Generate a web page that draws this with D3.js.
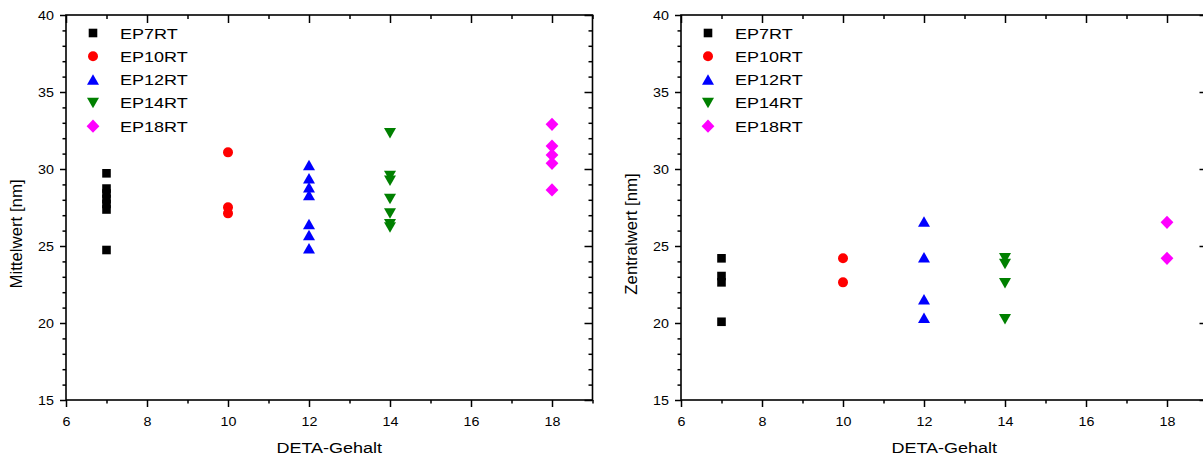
<!DOCTYPE html>
<html><head><meta charset="utf-8">
<script src="https://cdn.jsdelivr.net/npm/d3@7"></script>
<style>body{margin:0;background:#fff} svg{display:block} text{font-family:"Liberation Sans",Arial,sans-serif;fill:#000}</style>
</head><body><svg id="c" width="1203" height="462"></svg>
<script>
const seriesNames = ["EP7RT","EP10RT","EP12RT","EP14RT","EP18RT"];
const seriesX = [7,10,12,14,18];
const seriesColors = ["#000000","#ff0000","#0000ff","#008000","#ff00ff"];
const seriesShapes = ["square","circle","triangleUp","triangleDown","diamond"];
const mittelwert = [
  [29.72, 28.73, 28.41, 28.05, 27.73, 27.37, 24.74],
  [31.08, 27.51, 27.12],
  [30.26, 29.39, 28.81, 28.31, 26.43, 25.71, 24.85],
  [32.32, 29.55, 29.24, 28.05, 27.12, 26.41, 26.21],
  [32.90, 31.49, 30.91, 30.37, 28.64]
];
const zentralwert = [
  [24.20, 23.05, 22.64, 20.08],
  [24.20, 22.64],
  [26.58, 24.27, 21.54, 20.34],
  [24.20, 23.83, 22.58, 20.24],
  [26.54, 24.20]
];
const xTicks = [6,8,10,12,14,16,18];
const xMinor = [7,9,11,13,15,17,19];
const yTicks = [15,20,25,30,35,40];
const yMinor = d3.range(15,41,1).filter(v=>v%5!==0);
const xTitle = "DETA-Gehalt";
const yTitles = ["Mittelwert [nm]","Zentralwert [nm]"];

const svg = d3.select("#c");
const SX = 1.2; // horizontal stretch of texts in the original

function shapePath(shape){
  switch(shape){
    case "square": {const h=4.3; return `M${-h},${-h}H${h}V${h}H${-h}Z`;}
    case "circle": return d3.symbol(d3.symbolCircle, Math.PI*25)();
    case "triangleUp": return "M0,-5.3L6,5.2L-6,5.2Z";
    case "triangleDown": return "M0,5.3L6,-5.2L-6,-5.2Z";
    case "diamond": return "M0,-6.6L6.4,0L0,6.6L-6.4,0Z";
  }
}

function panel(x0, x1, data, yTitle){
  const y0 = 400, y1 = 15;
  const x = d3.scaleLinear().domain([6,19]).range([x0,x1]);
  const y = d3.scaleLinear().domain([15,40]).range([y0,y1]);
  const g = svg.append("g");

  const bottom = g.append("g").attr("transform",`translate(0,${y0})`)
    .call(d3.axisBottom(x).tickValues(xTicks).tickSize(7).tickSizeOuter(0).tickFormat(d3.format("d")));
  g.append("g").attr("transform",`translate(0,${y0})`)
    .call(d3.axisBottom(x).tickValues(xMinor).tickSize(3.5).tickSizeOuter(0).tickFormat(""));
  g.append("g").attr("transform",`translate(0,${y1})`)
    .call(d3.axisBottom(x).tickValues(xTicks).tickSize(8).tickSizeOuter(0).tickFormat(""));
  g.append("g").attr("transform",`translate(0,${y1})`)
    .call(d3.axisBottom(x).tickValues(xMinor).tickSize(4).tickSizeOuter(0).tickFormat(""));
  const left = g.append("g").attr("transform",`translate(${x0},0)`)
    .call(d3.axisLeft(y).tickValues(yTicks).tickSize(6).tickSizeOuter(0).tickFormat(d3.format("d")));
  g.append("g").attr("transform",`translate(${x0},0)`)
    .call(d3.axisLeft(y).tickValues(yMinor).tickSize(3.5).tickSizeOuter(0).tickFormat(""));
  g.append("g").attr("transform",`translate(${x1},0)`)
    .call(d3.axisLeft(y).tickValues(yTicks).tickSize(8).tickSizeOuter(0).tickFormat(""));
  g.append("g").attr("transform",`translate(${x1},0)`)
    .call(d3.axisLeft(y).tickValues(yMinor).tickSize(4).tickSizeOuter(0).tickFormat(""));

  g.selectAll(".domain").remove();
  g.selectAll(".tick line").attr("stroke","#000").attr("stroke-width",1.5);
  g.selectAll(".tick text").attr("font-size",13).attr("fill","#000")
    .style("font-family",'"Liberation Sans",Arial,sans-serif');
  bottom.selectAll(".tick text").attr("y",0).attr("dy",0)
    .attr("transform",`translate(0,26) scale(1.1,1)`);
  left.selectAll(".tick text").attr("x",0).attr("dy","0.35em")
    .attr("transform",`translate(-12,0) scale(1.1,1)`);

  g.append("rect").attr("x",x0).attr("y",y1).attr("width",x1-x0).attr("height",y0-y1)
    .attr("fill","none").attr("stroke","#000").attr("stroke-width",1.6);

  g.append("text").attr("text-anchor","middle").attr("font-size",15)
    .attr("transform",`translate(${(x0+x1)/2},${453}) scale(${SX},1)`).text(xTitle);
  g.append("text").attr("text-anchor","middle").attr("font-size",15)
    .attr("transform",`translate(${x0-44},${234}) rotate(-90) scale(1.12,1.1)`).text(yTitle);

  data.forEach((vals,i)=>{
    g.append("g").selectAll("path").data(vals).join("path")
      .attr("d",shapePath(seriesShapes[i]))
      .attr("fill",seriesColors[i])
      .attr("transform",d=>`translate(${x(seriesX[i])},${y(d)})`);
  });

  const lg = g.append("g");
  seriesNames.forEach((n,i)=>{
    const ly = 33 + i*23.3;
    lg.append("path").attr("d",shapePath(seriesShapes[i])).attr("fill",seriesColors[i])
      .attr("transform",`translate(${x0+27},${ly})`);
    lg.append("text").attr("font-size",15)
      .attr("transform",`translate(${x0+54},${ly+5.5}) scale(${SX},1)`).text(n);
  });
}

panel(66, 592.5, mittelwert, yTitles[0]);
panel(681, 1207.5, zentralwert, yTitles[1]);
</script></body></html>
